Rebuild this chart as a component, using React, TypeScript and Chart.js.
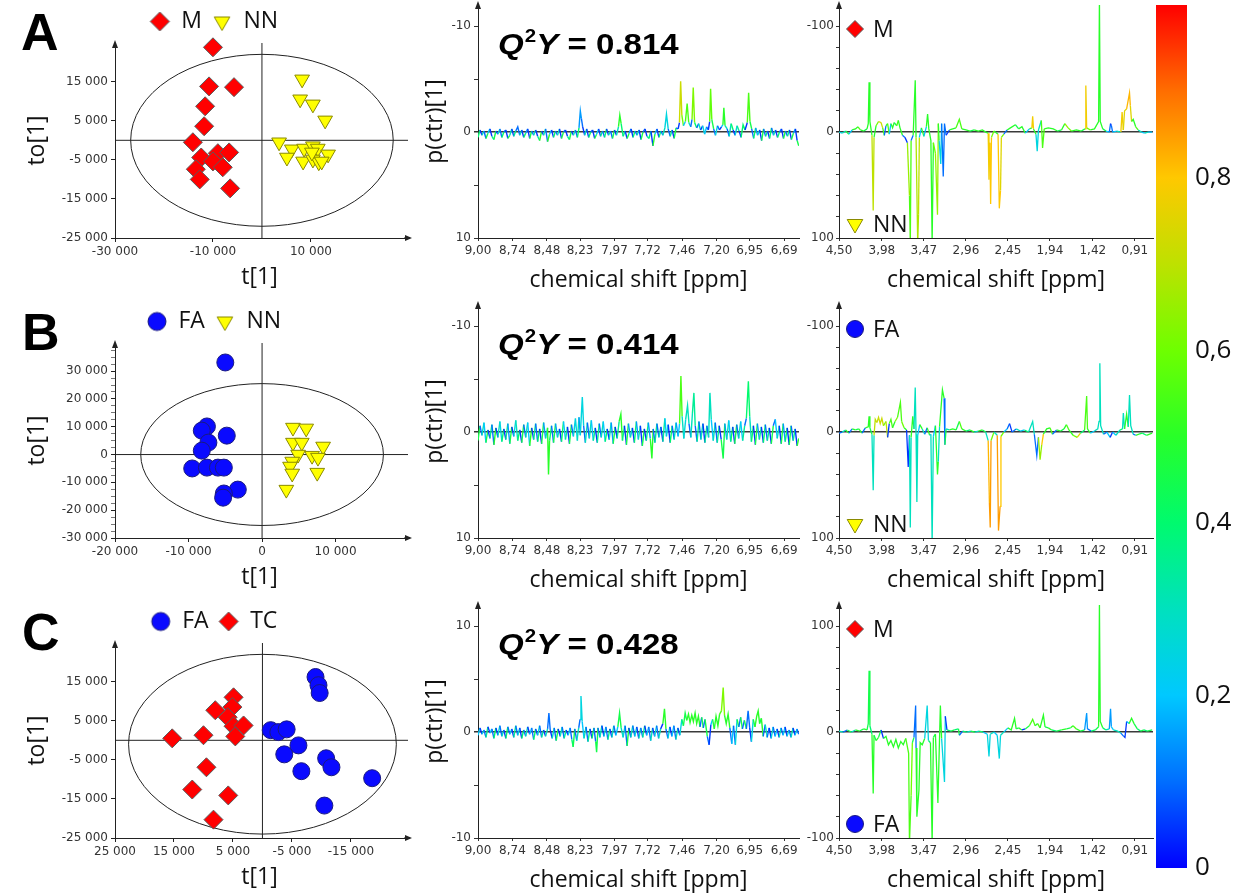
import React, { useEffect, useRef } from 'react';
import { Chart, registerables } from 'chart.js';

Chart.register(...registerables);

// ---------------- DATA ----------------
// Row A scores (M vs NN)
const A_M_T = [-10000, -10800, -5700, -11600, -11800, -14100, -12400, -9000, -6700, -10000, -8000, -13500, -12700, -6500];
const A_M_TO = [23800, 13800, 13600, 8700, 3600, -500, -4400, -3300, -3100, -5400, -6900, -7400, -10000, -12300];
const A_NN_T = [8200, 7800, 10400, 12900, 3500, 6100, 5100, 8600, 10400, 11400, 8400, 10400, 13500, 11600, 12200, 10200];
const A_NN_TO = [15600, 10500, 9200, 5100, -500, -2300, -4400, -2100, -1500, -2100, -5400, -4900, -3600, -5600, -5400, -3100];
// Row B scores (FA vs NN)
const B_FA_T = [-5000, -7500, -8200, -4800, -7300, -8200, -9500, -7500, -6000, -5200, -3300, -5200, -5300];
const B_FA_TO = [33100, 10100, 8600, 6800, 4300, 1400, -5000, -4700, -4700, -4700, -12600, -14000, -15500];
const B_NN_T = [4200, 6000, 4200, 5400, 8300, 4900, 6800, 7600, 4100, 3800, 4100, 7500, 3300];
const B_NN_TO = [9700, 9400, 4300, 4300, 2900, 0, -400, -1100, -2500, -4300, -6800, -6500, -12600];
// Row C scores (FA vs TC)
const C_FA_T = [-9000, -9500, -9700, -1400, -2700, -4100, -6100, -3700, -10800, -11700, -6600, -18600, -10500];
const C_FA_TO = [16200, 14100, 12100, 2600, 2100, 2800, -1300, -3600, -4600, -6900, -7900, -9700, -16700];
const C_TC_T = [4900, 5100, 8000, 5900, 4900, 3200, 4600, 15300, 10000, 9500, 11900, 5800, 8300];
const C_TC_TO = [11000, 8500, 7700, 5900, 3600, 3800, 1000, 500, 1300, -6900, -12600, -14100, -20300];

// Hotelling ellipses [a (t), b (to), centre t, centre to]
const ELL_A = [26800, 22000, 0, 0];
const ELL_B = [16500, 25500, 0, 0];
const ELL_C = [22700, 23000, 0, -1000];

// Score axis ticks
const A_X_TICKS = [-30000, -10000, 10000];
const A_Y_TICKS = [-25000, -15000, -5000, 5000, 15000];
const B_X_TICKS = [-20000, -10000, 0, 10000];
const B_Y_TICKS = [-30000, -20000, -10000, 0, 10000, 20000, 30000];
const B_Y_MINOR = [-27500, -25000, -22500, -17500, -15000, -12500, -7500, -5000, -2500, 2500, 5000, 7500, 12500, 15000, 17500, 22500, 25000, 27500, 32500, 35000, 37500];
const C_X_TICKS = [25000, 15000, 5000, -5000, -15000];
const C_Y_TICKS = [-25000, -15000, -5000, 5000, 15000];

// Spectral axis ticks (ppm)
const MID_X_TICKS = [9.0, 8.74, 8.48, 8.23, 7.97, 7.72, 7.46, 7.2, 6.95, 6.69];
const RIGHT_X_TICKS = [4.5, 3.98, 3.47, 2.96, 2.45, 1.94, 1.42, 0.91];
const MID_Y_TICKS = [-10, -5, 0, 5, 10];
const MID_Y_LABELS = [-10, 0, 10];
const RIGHT_Y_TICKS = [-100, -80, -60, -40, -20, 0, 20, 40, 60, 80, 100];
const RIGHT_Y_LABELS = [-100, 0, 100];

const Q2Y = ['0.814', '0.414', '0.428'];

// Spectra: [ppm, p(ctr)[1], |r|]
const MID_A: number[][] = [
  [9.0, 0.5, 0.4], [8.985, -0.2, 0.05], [8.97, 0.3, 0.3], [8.955, -0.1, 0.1], [8.94, 0.6, 0.45],
  [8.925, 0.1, 0.2], [8.91, -0.3, 0.05], [8.895, 0.4, 0.35], [8.88, 0.7, 0.45], [8.865, -0.1, 0.05],
  [8.85, 0.2, 0.25], [8.835, -0.3, 0.1], [8.82, 0.5, 0.4], [8.805, 0.0, 0.1], [8.79, -0.2, 0.05],
  [8.775, 0.6, 0.45], [8.76, 0.3, 0.3], [8.745, -0.3, 0.05], [8.73, 0.4, 0.35], [8.715, -0.1, 0.1],
  [8.7, -0.5, 0.1], [8.685, 0.3, 0.3], [8.67, -0.2, 0.05], [8.655, 0.5, 0.4], [8.64, 0.1, 0.15],
  [8.625, -0.3, 0.05], [8.61, 0.6, 0.45], [8.595, -0.1, 0.1], [8.58, 0.3, 0.3], [8.565, -0.2, 0.05],
  [8.55, 0.4, 0.35], [8.535, 0.8, 0.5], [8.52, -0.1, 0.05], [8.505, 0.3, 0.3], [8.49, -0.3, 0.1],
  [8.475, 0.9, 0.5], [8.46, 0.2, 0.2], [8.445, -0.2, 0.05], [8.43, 0.5, 0.4], [8.415, -0.1, 0.1],
  [8.4, 0.3, 0.3], [8.385, -0.3, 0.05], [8.37, 0.6, 0.45], [8.355, 0.0, 0.1], [8.34, -0.2, 0.05],
  [8.325, 0.4, 0.35], [8.31, 0.7, 0.45], [8.295, -0.1, 0.05], [8.28, 0.3, 0.3], [8.265, -0.2, 0.1],
  [8.25, 0.5, 0.4], [8.238, -0.4, 0.1], [8.228, -2.0, 0.15], [8.22, -1.3, 0.1], [8.21, -0.5, 0.05],
  [8.195, 0.3, 0.3], [8.18, -0.3, 0.05], [8.165, 0.5, 0.4], [8.15, 0.0, 0.1], [8.135, -0.2, 0.05],
  [8.12, 0.6, 0.45], [8.105, 0.2, 0.2], [8.09, -0.3, 0.05], [8.075, 0.4, 0.35], [8.06, -0.1, 0.1],
  [8.045, 0.5, 0.4], [8.03, -0.3, 0.05], [8.015, 0.3, 0.3], [8.0, -0.1, 0.1], [7.985, 0.6, 0.45],
  [7.97, -0.2, 0.05], [7.955, 0.3, 0.3], [7.94, -0.5, 0.3], [7.93, -1.6, 0.5], [7.92, -0.8, 0.4],
  [7.905, 0.4, 0.35], [7.89, -0.1, 0.05], [7.875, 0.6, 0.45], [7.86, 0.1, 0.15], [7.845, -0.3, 0.05],
  [7.83, 0.5, 0.4], [7.815, -0.1, 0.1], [7.8, 0.3, 0.3], [7.785, -0.2, 0.05], [7.77, 0.7, 0.45],
  [7.755, 0.0, 0.1], [7.74, -0.3, 0.05], [7.725, 0.4, 0.35], [7.71, 0.6, 0.4], [7.695, -0.1, 0.05],
  [7.68, 1.3, 0.5], [7.665, 0.2, 0.2], [7.65, -0.3, 0.05], [7.635, 0.5, 0.4], [7.62, -0.1, 0.1],
  [7.605, 0.3, 0.3], [7.59, -0.4, 0.1], [7.578, -1.7, 0.25], [7.565, -0.3, 0.1], [7.55, 0.4, 0.35],
  [7.535, -0.2, 0.05], [7.52, 0.6, 0.45], [7.505, -0.4, 0.1], [7.49, -0.3, 0.05], [7.48, -0.9, 0.5],
  [7.471, -4.8, 0.72], [7.462, -1.6, 0.6], [7.45, -0.6, 0.2], [7.435, -1.0, 0.3], [7.422, -2.7, 0.55],
  [7.41, -0.9, 0.3], [7.395, -0.5, 0.1], [7.385, -1.2, 0.5], [7.376, -4.2, 0.62], [7.366, -0.9, 0.4],
  [7.35, -0.4, 0.1], [7.335, -0.8, 0.3], [7.32, -0.2, 0.05], [7.305, -0.6, 0.25], [7.29, 0.2, 0.2],
  [7.275, -0.5, 0.1], [7.262, -0.2, 0.05], [7.252, -1.0, 0.5], [7.245, -4.1, 0.58], [7.236, -1.2, 0.45],
  [7.222, -0.3, 0.1], [7.208, 0.3, 0.25], [7.193, -0.6, 0.1], [7.178, -0.2, 0.05], [7.163, -0.5, 0.2],
  [7.152, -0.7, 0.4], [7.145, -2.3, 0.5], [7.136, -0.6, 0.3], [7.12, -0.3, 0.1], [7.105, 0.4, 0.3],
  [7.09, -0.8, 0.4], [7.075, -0.2, 0.05], [7.06, 0.3, 0.25], [7.045, -0.6, 0.35], [7.03, -0.1, 0.05],
  [7.015, 0.5, 0.4], [7.0, -0.7, 0.4], [6.985, -0.2, 0.05], [6.968, -0.9, 0.45], [6.958, -3.7, 0.55],
  [6.948, -1.0, 0.45], [6.935, -0.3, 0.1], [6.92, 0.6, 0.4], [6.905, -0.4, 0.15], [6.89, 0.3, 0.25],
  [6.875, -0.2, 0.05], [6.86, 0.8, 0.45], [6.845, -0.3, 0.1], [6.83, 0.4, 0.35], [6.815, -0.1, 0.05],
  [6.8, 0.6, 0.4], [6.785, -0.4, 0.1], [6.77, 0.3, 0.3], [6.755, -0.2, 0.05], [6.74, 0.5, 0.4],
  [6.725, 0.0, 0.1], [6.71, -0.3, 0.05], [6.695, 0.6, 0.45], [6.68, -0.1, 0.1], [6.665, 0.4, 0.35],
  [6.65, -0.2, 0.05], [6.635, 0.7, 0.45], [6.62, 0.1, 0.15], [6.605, -0.3, 0.05], [6.592, 0.8, 0.45],
  [6.58, 1.3, 0.5],
];

const MID_B: number[][] = [
  [9.0, 0.8, 0.45], [8.985, -0.6, 0.1], [8.97, 0.3, 0.3], [8.955, -0.9, 0.2], [8.94, 1.0, 0.45],
  [8.925, -0.2, 0.05], [8.91, 0.6, 0.35], [8.895, -0.7, 0.1], [8.88, 1.2, 0.5], [8.865, -0.4, 0.05],
  [8.85, 0.5, 0.3], [8.835, -1.0, 0.25], [8.82, 0.9, 0.4], [8.805, -0.3, 0.05], [8.79, 0.7, 0.35],
  [8.775, -0.8, 0.15], [8.76, 1.1, 0.45], [8.745, -0.5, 0.05], [8.73, 0.4, 0.25], [8.715, -1.1, 0.3],
  [8.7, 0.8, 0.4], [8.685, -0.2, 0.05], [8.67, 1.0, 0.45], [8.655, -0.7, 0.1], [8.64, 0.5, 0.3],
  [8.625, -0.9, 0.2], [8.61, 1.3, 0.5], [8.595, -0.4, 0.05], [8.58, 0.7, 0.35], [8.565, -0.8, 0.1],
  [8.55, 0.9, 0.4], [8.535, -0.3, 0.05], [8.52, 1.1, 0.45], [8.505, -0.9, 0.15], [8.49, 0.6, 0.3],
  [8.475, -0.4, 0.05], [8.468, 4.0, 0.5], [8.46, 0.8, 0.4], [8.445, -0.6, 0.1], [8.43, 1.0, 0.45],
  [8.415, -0.8, 0.15], [8.4, 0.5, 0.3], [8.385, -0.3, 0.05], [8.37, 0.9, 0.4], [8.355, -1.0, 0.2],
  [8.34, 0.7, 0.35], [8.325, -0.5, 0.05], [8.31, 1.1, 0.45], [8.295, -0.7, 0.1], [8.28, 0.4, 0.25],
  [8.265, -1.3, 0.25], [8.25, 0.8, 0.3], [8.238, -1.4, 0.15], [8.228, 0.3, 0.2], [8.213, -3.3, 0.25],
  [8.203, -0.6, 0.1], [8.19, 1.0, 0.3], [8.175, -0.9, 0.1], [8.16, 0.6, 0.3], [8.145, -1.1, 0.2],
  [8.13, 0.8, 0.35], [8.115, -0.4, 0.05], [8.1, 1.0, 0.35], [8.085, -0.8, 0.1], [8.07, 0.5, 0.3],
  [8.055, -1.0, 0.2], [8.04, 0.9, 0.4], [8.025, -0.3, 0.05], [8.01, 0.7, 0.3], [7.995, -0.9, 0.15],
  [7.98, 1.1, 0.45], [7.965, -0.5, 0.05], [7.95, 0.6, 0.35], [7.935, -1.0, 0.2], [7.922, -1.7, 0.5],
  [7.91, 0.8, 0.35], [7.895, -0.6, 0.05], [7.88, 1.2, 0.45], [7.865, -0.8, 0.15], [7.85, 0.5, 0.3],
  [7.835, -0.4, 0.05], [7.82, 1.0, 0.4], [7.805, -1.0, 0.15], [7.79, 0.7, 0.3], [7.775, -0.6, 0.05],
  [7.76, 1.3, 0.45], [7.745, -0.3, 0.05], [7.73, 0.8, 0.35], [7.715, -0.9, 0.15], [7.7, 0.6, 0.3],
  [7.688, 2.5, 0.5], [7.678, -0.3, 0.1], [7.665, 1.0, 0.35], [7.65, -0.8, 0.1], [7.635, 0.5, 0.3],
  [7.62, -0.5, 0.05], [7.605, 0.9, 0.35], [7.59, -1.3, 0.2], [7.578, 0.4, 0.25], [7.565, -0.7, 0.05],
  [7.55, 1.0, 0.4], [7.535, -0.6, 0.1], [7.52, 0.7, 0.3], [7.505, -0.9, 0.15], [7.49, 0.4, 0.2],
  [7.479, -0.8, 0.3], [7.469, -5.3, 0.55], [7.46, -1.5, 0.3], [7.447, 0.6, 0.25], [7.433, -1.2, 0.1],
  [7.419, -2.5, 0.3], [7.408, -0.8, 0.1], [7.394, 0.5, 0.25], [7.382, -1.8, 0.3], [7.371, -3.7, 0.35],
  [7.361, -0.6, 0.1], [7.347, 0.9, 0.35], [7.333, -1.0, 0.1], [7.318, 0.7, 0.3], [7.303, -0.8, 0.05],
  [7.288, 1.0, 0.35], [7.273, -0.6, 0.1], [7.26, 0.5, 0.25], [7.25, -3.7, 0.3], [7.24, -1.2, 0.2],
  [7.225, 0.8, 0.3], [7.21, -0.9, 0.1], [7.195, 1.0, 0.35], [7.18, -0.6, 0.05], [7.165, 0.7, 0.3],
  [7.15, 2.5, 0.45], [7.138, -0.8, 0.15], [7.123, 0.7, 0.3], [7.108, -1.1, 0.2], [7.093, 0.9, 0.4],
  [7.078, -0.5, 0.05], [7.063, 1.1, 0.45], [7.048, -0.7, 0.1], [7.033, 0.6, 0.3], [7.018, -1.0, 0.2],
  [7.003, 0.8, 0.35], [6.988, -0.6, 0.1], [6.975, -1.3, 0.3], [6.96, -4.8, 0.4], [6.95, -1.5, 0.3],
  [6.937, 0.9, 0.4], [6.922, -0.6, 0.05], [6.907, 1.2, 0.45], [6.892, -0.8, 0.15], [6.877, 0.7, 0.35],
  [6.862, -0.5, 0.05], [6.847, 1.0, 0.4], [6.832, -0.7, 0.1], [6.817, 0.8, 0.35], [6.802, -0.4, 0.05],
  [6.787, 1.1, 0.45], [6.772, -0.6, 0.1], [6.757, -1.2, 0.2], [6.742, 0.6, 0.3], [6.727, -0.6, 0.05],
  [6.712, 1.1, 0.45], [6.697, -0.8, 0.15], [6.682, 0.9, 0.4], [6.667, -0.4, 0.05], [6.652, 1.2, 0.45],
  [6.637, -0.6, 0.1], [6.622, 0.8, 0.35], [6.607, -0.3, 0.05], [6.592, 1.3, 0.5], [6.58, 0.6, 0.4],
];

const MID_C: number[][] = [
  [9.0, -0.3, 0.2], [8.985, 0.4, 0.05], [8.97, -0.2, 0.25], [8.955, 0.2, 0.1], [8.94, -0.5, 0.35],
  [8.925, 0.5, 0.05], [8.91, -0.1, 0.2], [8.895, 0.3, 0.1], [8.88, -0.6, 0.4], [8.865, 0.4, 0.05],
  [8.85, -0.3, 0.25], [8.835, 0.6, 0.1], [8.82, -0.4, 0.3], [8.805, 0.2, 0.05], [8.79, -0.6, 0.4],
  [8.775, 0.5, 0.1], [8.76, -0.2, 0.2], [8.745, 0.3, 0.05], [8.73, -0.5, 0.35], [8.715, 0.6, 0.1],
  [8.7, -0.3, 0.25], [8.685, 0.4, 0.05], [8.67, -0.6, 0.4], [8.655, 0.2, 0.1], [8.64, -0.4, 0.3],
  [8.625, 0.5, 0.05], [8.61, -0.2, 0.2], [8.595, 0.4, 0.1], [8.58, -0.7, 0.4], [8.565, 0.3, 0.05],
  [8.55, -0.3, 0.25], [8.535, 0.6, 0.1], [8.52, -0.5, 0.35], [8.505, 0.2, 0.05], [8.49, -0.4, 0.3],
  [8.475, 0.3, 0.1], [8.465, 1.8, 0.1], [8.455, 0.2, 0.05], [8.44, -0.6, 0.3], [8.425, 0.4, 0.1],
  [8.41, -0.8, 0.45], [8.395, 0.3, 0.05], [8.38, -0.4, 0.3], [8.365, 0.5, 0.1], [8.35, -0.6, 0.35],
  [8.335, 0.2, 0.05], [8.32, -0.3, 0.2], [8.305, 0.4, 0.1], [8.292, -0.7, 0.4], [8.282, -1.4, 0.45],
  [8.27, 0.3, 0.1], [8.255, -0.8, 0.3], [8.24, 0.4, 0.1], [8.23, 1.2, 0.2], [8.223, 3.4, 0.25],
  [8.214, 1.0, 0.2], [8.2, -0.6, 0.3], [8.185, 0.5, 0.1], [8.17, -0.9, 0.35], [8.155, 0.3, 0.05],
  [8.14, -0.6, 0.4], [8.125, 0.4, 0.1], [8.112, -0.9, 0.4], [8.105, -1.9, 0.45], [8.095, 0.4, 0.1],
  [8.08, -0.5, 0.3], [8.065, 0.6, 0.05], [8.05, -0.4, 0.25], [8.035, 0.5, 0.1], [8.02, -0.7, 0.35],
  [8.005, 0.3, 0.05], [7.99, -0.5, 0.3], [7.975, 0.6, 0.1], [7.96, -0.3, 0.2], [7.945, 0.5, 0.3],
  [7.932, 1.8, 0.45], [7.92, 0.4, 0.3], [7.905, -0.5, 0.25], [7.89, 0.6, 0.1], [7.875, -1.3, 0.45],
  [7.862, 0.4, 0.05], [7.847, -0.5, 0.3], [7.832, 0.6, 0.1], [7.817, -0.4, 0.25], [7.802, 0.5, 0.05],
  [7.787, -0.6, 0.3], [7.772, 0.4, 0.1], [7.757, -0.5, 0.35], [7.742, 0.6, 0.05], [7.727, -0.3, 0.2],
  [7.712, 0.5, 0.1], [7.697, -0.8, 0.3], [7.682, 0.4, 0.05], [7.667, -0.4, 0.25], [7.652, 0.6, 0.1],
  [7.637, -0.6, 0.3], [7.622, 0.3, 0.05], [7.605, 0.8, 0.4], [7.593, 2.2, 0.5], [7.582, 0.3, 0.1],
  [7.567, -0.6, 0.25], [7.552, 0.5, 0.05], [7.537, -0.4, 0.2], [7.522, 0.6, 0.1], [7.507, -0.7, 0.3],
  [7.492, 0.4, 0.05], [7.477, -0.3, 0.25], [7.462, 1.2, 0.4], [7.45, 0.6, 0.3], [7.437, 1.8, 0.45],
  [7.425, 1.1, 0.5], [7.412, 1.7, 0.5], [7.4, 0.9, 0.45], [7.387, 1.6, 0.5], [7.375, 1.0, 0.45],
  [7.362, 1.8, 0.5], [7.35, 0.8, 0.4], [7.337, 1.5, 0.5], [7.325, 0.5, 0.1], [7.312, 1.4, 0.45],
  [7.3, 0.4, 0.1], [7.287, 1.2, 0.45], [7.27, -0.4, 0.1], [7.256, -1.2, 0.05], [7.243, 0.7, 0.2],
  [7.23, 1.2, 0.45], [7.217, 0.3, 0.1], [7.204, 1.5, 0.5], [7.19, 0.6, 0.3], [7.177, 1.7, 0.5],
  [7.163, 2.0, 0.55], [7.15, 4.2, 0.62], [7.14, 1.6, 0.5], [7.127, 0.8, 0.45], [7.113, 1.7, 0.5],
  [7.1, 0.4, 0.1], [7.085, -1.1, 0.2], [7.072, 0.6, 0.1], [7.058, -1.2, 0.25], [7.045, 1.2, 0.45],
  [7.032, 0.5, 0.1], [7.018, 1.4, 0.45], [7.005, 0.3, 0.1], [6.99, 1.1, 0.45], [6.975, 0.3, 0.1],
  [6.962, 2.0, 0.1], [6.95, 0.4, 0.05], [6.937, -0.9, 0.25], [6.923, 1.2, 0.45], [6.91, 0.5, 0.3],
  [6.897, 1.5, 0.5], [6.886, 2.0, 0.5], [6.875, 0.8, 0.45], [6.862, 1.3, 0.5], [6.848, -0.4, 0.1],
  [6.833, 0.7, 0.3], [6.818, -0.5, 0.1], [6.803, 0.4, 0.05], [6.788, -0.6, 0.25], [6.773, 0.5, 0.1],
  [6.758, -0.4, 0.2], [6.743, 0.3, 0.05], [6.728, -0.5, 0.3], [6.713, 0.4, 0.1], [6.698, -0.3, 0.2],
  [6.683, 0.5, 0.05], [6.668, -0.4, 0.25], [6.653, 0.2, 0.1], [6.638, -0.5, 0.3], [6.623, 0.4, 0.05],
  [6.608, -0.3, 0.2], [6.593, 0.3, 0.1], [6.58, -0.2, 0.15],
];

const RIGHT_A: number[][] = [
  [4.5, 0, 0.25], [4.46, 1, 0.3], [4.42, -1, 0.45], [4.38, 2, 0.2], [4.34, -2, 0.5],
  [4.3, -3, 0.5], [4.27, -5, 0.55], [4.24, -2, 0.5], [4.2, -1, 0.45], [4.16, -3, 0.5],
  [4.145, -8, 0.55], [4.135, -47, 0.5], [4.125, -10, 0.5], [4.1, 3, 0.3], [4.085, 74, 0.7],
  [4.075, 5, 0.5], [4.05, -6, 0.6], [4.02, -10, 0.75], [3.99, -9, 0.72], [3.97, -4, 0.55],
  [3.95, 3, 0.1], [3.93, -6, 0.5], [3.91, -8, 0.55], [3.89, 2, 0.2], [3.87, -8, 0.5],
  [3.85, -4, 0.5], [3.83, -9, 0.45], [3.8, -6, 0.55], [3.78, -11, 0.5], [3.76, -4, 0.5],
  [3.73, 3, 0.1], [3.7, 5, 0.05], [3.67, 10, 0.05], [3.645, 60, 0.65], [3.635, 105, 0.55],
  [3.625, 8, 0.1], [3.6, 3, 0.05], [3.575, -49, 0.5], [3.565, 5, 0.1], [3.545, 105, 0.68],
  [3.535, 78, 0.7], [3.525, 5, 0.2], [3.5, -4, 0.5], [3.47, 4, 0.2], [3.44, -5, 0.5],
  [3.425, -17, 0.5], [3.41, -3, 0.5], [3.385, 8, 0.3], [3.37, 105, 0.5], [3.355, 10, 0.4],
  [3.33, 20, 0.6], [3.305, 78, 0.65], [3.295, -8, 0.5], [3.285, 8, 0.3], [3.265, 30, 0.25],
  [3.255, -8, 0.1], [3.235, 42, 0.1], [3.22, -8, 0.1], [3.2, 3, 0.05], [3.16, -2, 0.5],
  [3.12, -3, 0.5], [3.08, -4, 0.5], [3.04, -12, 0.55], [3.01, -3, 0.5], [2.96, -2, 0.5],
  [2.91, -1, 0.45], [2.86, -2, 0.5], [2.81, -1, 0.5], [2.76, -2, 0.5], [2.72, 0, 0.5],
  [2.69, 1, 0.6], [2.68, 45, 0.78], [2.67, 10, 0.75], [2.66, 68, 0.8], [2.65, 5, 0.6],
  [2.62, -1, 0.5], [2.57, 2, 0.6], [2.555, 72, 0.8], [2.54, 55, 0.75], [2.53, 5, 0.6],
  [2.5, 2, 0.1], [2.46, -2, 0.5], [2.42, -4, 0.5], [2.36, -7, 0.45], [2.32, -3, 0.5],
  [2.28, -5, 0.5], [2.24, 1, 0.2], [2.19, -3, 0.5], [2.16, -4, 0.55], [2.15, -15, 0.78],
  [2.14, -3, 0.5], [2.11, 2, 0.2], [2.095, 18, 0.25], [2.08, -2, 0.3], [2.045, -11, 0.25],
  [2.03, 15, 0.55], [2.01, -3, 0.5], [1.96, -4, 0.5], [1.9, -3, 0.5], [1.85, -1, 0.45],
  [1.8, -2, 0.5], [1.76, -8, 0.65], [1.72, -4, 0.6], [1.68, -1, 0.5], [1.62, -2, 0.5],
  [1.56, -1, 0.45], [1.515, -3, 0.55], [1.505, -44, 0.78], [1.495, -4, 0.6], [1.45, -2, 0.5],
  [1.4, -3, 0.5], [1.35, -10, 0.5], [1.34, -125, 0.5], [1.33, -10, 0.5], [1.3, -3, 0.45],
  [1.26, -1, 0.2], [1.22, 0, 0.1], [1.205, -8, 0.05], [1.195, -6, 0.1], [1.18, 0, 0.2],
  [1.13, -1, 0.3], [1.08, 0, 0.5], [1.065, -19, 0.78], [1.05, -2, 0.6], [1.035, -20, 0.75],
  [1.01, -22, 0.75], [0.975, -37, 0.82], [0.965, -25, 0.75], [0.95, -10, 0.55], [0.93, -12, 0.5],
  [0.9, -5, 0.55], [0.87, -2, 0.3], [0.83, 0, 0.2], [0.79, 1, 0.3], [0.75, 0, 0.2],
  [0.7, 0, 0.2],
];

const RIGHT_B: number[][] = [
  [4.5, 1, 0.1], [4.46, 0, 0.3], [4.42, -2, 0.5], [4.38, 1, 0.1], [4.34, -3, 0.5],
  [4.3, -2, 0.45], [4.26, -3, 0.5], [4.22, 1, 0.1], [4.18, -4, 0.5], [4.145, -5, 0.5],
  [4.135, -15, 0.5], [4.125, -4, 0.45], [4.1, 2, 0.2], [4.085, 55, 0.3], [4.075, 3, 0.2],
  [4.06, -12, 0.7], [4.04, -9, 0.75], [4.02, -14, 0.72], [4.0, -8, 0.65], [3.98, -13, 0.72],
  [3.96, -6, 0.6], [3.93, -10, 0.7], [3.91, 5, 0.05], [3.89, -8, 0.6], [3.87, -12, 0.55],
  [3.85, -4, 0.5], [3.82, -10, 0.6], [3.79, -14, 0.62], [3.755, -28, 0.55], [3.74, -10, 0.6],
  [3.71, -4, 0.5], [3.68, -2, 0.3], [3.66, 33, 0.05], [3.645, 3, 0.2], [3.635, 90, 0.3],
  [3.625, 5, 0.2], [3.605, -15, 0.5], [3.59, -3, 0.2], [3.575, -42, 0.3], [3.565, 2, 0.2],
  [3.555, 66, 0.3], [3.545, 3, 0.2], [3.52, -7, 0.5], [3.49, -3, 0.3], [3.46, 2, 0.1],
  [3.43, -4, 0.5], [3.4, 3, 0.2], [3.385, 2, 0.1], [3.37, 105, 0.3], [3.355, 4, 0.2],
  [3.33, -6, 0.5], [3.305, 40, 0.5], [3.295, 28, 0.3], [3.28, -5, 0.2], [3.245, -40, 0.5],
  [3.225, -32, 0.1], [3.215, 12, 0.45], [3.2, -3, 0.3], [3.16, -2, 0.5], [3.12, -3, 0.5],
  [3.08, -2, 0.45], [3.04, -10, 0.55], [3.01, -3, 0.5], [2.96, -1, 0.4], [2.91, -2, 0.5],
  [2.86, 0, 0.3], [2.81, -1, 0.5], [2.76, -2, 0.45], [2.72, 0, 0.3], [2.69, 8, 0.55],
  [2.675, 67, 0.82], [2.665, 90, 0.85], [2.655, 8, 0.6], [2.62, 0, 0.3], [2.58, 3, 0.6],
  [2.565, 93, 0.85], [2.545, 70, 0.8], [2.535, 4, 0.6], [2.5, 0, 0.2], [2.46, -3, 0.1],
  [2.43, -8, 0.05], [2.4, 0, 0.1], [2.35, -3, 0.3], [2.3, -1, 0.2], [2.25, -2, 0.4],
  [2.2, 0, 0.3], [2.15, -10, 0.3], [2.13, 2, 0.5], [2.1, 22, 0.1], [2.08, 5, 0.5],
  [2.06, 26, 0.65], [2.04, 12, 0.8], [2.02, 2, 0.5], [1.98, -3, 0.5], [1.94, -4, 0.55],
  [1.91, 2, 0.1], [1.86, -2, 0.5], [1.81, -1, 0.45], [1.77, -3, 0.5], [1.74, -7, 0.55],
  [1.71, -2, 0.5], [1.66, 3, 0.6], [1.61, 5, 0.75], [1.57, 1, 0.4], [1.52, -2, 0.5],
  [1.495, -34, 0.55], [1.485, -3, 0.5], [1.45, 1, 0.2], [1.4, -1, 0.3], [1.36, -3, 0.3],
  [1.345, -10, 0.3], [1.335, -65, 0.3], [1.325, -6, 0.3], [1.29, 2, 0.1], [1.25, 0, 0.2],
  [1.21, 5, 0.05], [1.18, 0, 0.2], [1.14, 3, 0.3], [1.09, -2, 0.4], [1.06, -3, 0.3],
  [1.05, -18, 0.3], [1.035, -3, 0.4], [1.01, -17, 0.5], [0.99, -5, 0.4], [0.975, -35, 0.3],
  [0.96, -6, 0.3], [0.93, 2, 0.1], [0.9, 3, 0.5], [0.86, 2, 0.45], [0.82, 1, 0.4],
  [0.77, 3, 0.5], [0.7, 1, 0.4],
];

const RIGHT_C: number[][] = [
  [4.5, 1, 0.3], [4.45, 0, 0.1], [4.4, 2, 0.45], [4.35, 0, 0.3], [4.3, 2, 0.5],
  [4.25, 1, 0.45], [4.2, 3, 0.5], [4.16, 2, 0.45], [4.145, 8, 0.5], [4.135, 58, 0.45],
  [4.125, 6, 0.4], [4.1, -2, 0.4], [4.085, -58, 0.5], [4.075, -3, 0.45], [4.05, -8, 0.5],
  [4.02, -5, 0.45], [3.99, 2, 0.05], [3.96, -6, 0.5], [3.93, -4, 0.5], [3.9, -12, 0.5],
  [3.87, -8, 0.45], [3.84, -14, 0.5], [3.81, -7, 0.4], [3.78, -15, 0.5], [3.75, -9, 0.45],
  [3.72, -12, 0.5], [3.69, -6, 0.45], [3.655, -20, 0.55], [3.645, -105, 0.55], [3.625, -60, 0.6],
  [3.61, -10, 0.45], [3.59, -5, 0.45], [3.57, 25, 0.1], [3.565, -15, 0.45], [3.555, -80, 0.5],
  [3.53, -55, 0.5], [3.515, -10, 0.45], [3.49, -12, 0.5], [3.46, -6, 0.45], [3.43, 25, 0.25],
  [3.415, -8, 0.4], [3.39, -10, 0.45], [3.37, -105, 0.5], [3.355, -5, 0.45], [3.33, -2, 0.4],
  [3.3, -67, 0.5], [3.27, 25, 0.5], [3.255, -6, 0.2], [3.22, -47, 0.25], [3.21, 15, 0.05],
  [3.19, 2, 0.4], [3.14, 1, 0.45], [3.1, 2, 0.4], [3.05, 3, 0.45], [3.04, -3, 0.1],
  [3.0, 1, 0.4], [2.95, 0, 0.3], [2.9, 1, 0.45], [2.85, 0, 0.3], [2.8, 1, 0.4],
  [2.75, 0, 0.2], [2.7, -2, 0.3], [2.68, -23, 0.25], [2.665, -2, 0.3], [2.62, 0, 0.2],
  [2.58, -3, 0.3], [2.555, -25, 0.25], [2.54, -3, 0.3], [2.5, 0, 0.2], [2.45, 4, 0.5],
  [2.41, 2, 0.45], [2.37, 13, 0.5], [2.35, 3, 0.45], [2.32, 4, 0.5], [2.28, 2, 0.05],
  [2.24, 3, 0.45], [2.19, 6, 0.5], [2.15, 12, 0.55], [2.12, 6, 0.5], [2.09, 8, 0.55],
  [2.06, 4, 0.5], [2.02, 16, 0.5], [2.0, 5, 0.45], [1.96, 4, 0.5], [1.92, 2, 0.4],
  [1.86, 1, 0.45], [1.8, 2, 0.5], [1.74, 3, 0.45], [1.69, 4, 0.5], [1.66, 6, 0.55],
  [1.62, 3, 0.5], [1.57, 1, 0.45], [1.52, 2, 0.4], [1.495, 18, 0.15], [1.485, 3, 0.1],
  [1.44, 1, 0.4], [1.39, 2, 0.45], [1.35, 5, 0.5], [1.34, 122, 0.5], [1.33, 10, 0.5],
  [1.3, 4, 0.4], [1.26, 2, 0.3], [1.22, 3, 0.2], [1.205, 22, 0.15], [1.195, 5, 0.2],
  [1.17, 2, 0.3], [1.12, 1, 0.3], [1.08, -1, 0.1], [1.045, -4, 0.05], [1.03, -5, 0.05],
  [1.01, 10, 0.2], [0.98, 8, 0.45], [0.95, 13, 0.5], [0.92, 8, 0.45], [0.88, 3, 0.4],
  [0.84, 1, 0.45], [0.8, 2, 0.4], [0.76, 1, 0.45], [0.7, 2, 0.4],
];

// Colour scale (|r|) stops
const CMAP_POS = [0, 0.1, 0.2, 0.3, 0.4, 0.5, 0.6, 0.7, 0.8, 0.9, 1];
const CMAP_RGB = [
  [0, 0, 255], [0, 110, 255], [0, 200, 255], [0, 225, 190], [0, 250, 110], [40, 255, 40],
  [110, 255, 0], [190, 225, 0], [255, 200, 0], [255, 110, 0], [255, 0, 0],
];
const COLORBAR_RANGE = [0, 1];
const COLORBAR_TICKS = [0, 0.2, 0.4, 0.6, 0.8];

// ---------------- HELPERS ----------------
const TICK_FONT = { family: 'DejaVu Sans', size: 12 };
const TITLE_FONT = { family: 'Open Sans', size: 23 };
const LEGEND_FONT = { family: 'Open Sans', size: 23 };

function cmap(v: number): string {
  const t = Math.max(0, Math.min(1, v));
  let i = 0;
  while (i < CMAP_POS.length - 2 && t > CMAP_POS[i + 1]) i++;
  const f = (t - CMAP_POS[i]) / (CMAP_POS[i + 1] - CMAP_POS[i]);
  const a = CMAP_RGB[i], b = CMAP_RGB[i + 1];
  const c = a.map((x, k) => Math.round(x + (b[k] - x) * f));
  return `rgb(${c[0]},${c[1]},${c[2]})`;
}

function fmtK(v: number): string {
  const s = Math.abs(Math.round(v)).toString().replace(/\B(?=(\d{3})+(?!\d))/g, ' ');
  return (v < 0 ? '-' : '') + s;
}

function drawMarker(ctx: CanvasRenderingContext2D, kind: string, x: number, y: number, r: number, fill: string, stroke: string) {
  ctx.beginPath();
  if (kind === 'diamond') {
    ctx.moveTo(x, y - r); ctx.lineTo(x + r, y); ctx.lineTo(x, y + r); ctx.lineTo(x - r, y); ctx.closePath();
  } else if (kind === 'tri') {
    ctx.moveTo(x - r * 0.866, y - r * 0.5); ctx.lineTo(x + r * 0.866, y - r * 0.5); ctx.lineTo(x, y + r); ctx.closePath();
  } else {
    ctx.arc(x, y, r, 0, Math.PI * 2);
  }
  ctx.fillStyle = fill; ctx.fill();
  ctx.lineWidth = 1; ctx.strokeStyle = stroke; ctx.stroke();
}

const STYLE: any = {
  M: { pointStyle: 'rectRot', fill: '#ff0000', stroke: '#5a5a5a', radius: 9.5, rotation: 0, kind: 'diamond', lr: 9.5 },
  TC: { pointStyle: 'rectRot', fill: '#ff0000', stroke: '#5a5a5a', radius: 9.5, rotation: 0, kind: 'diamond', lr: 9.5 },
  NN: { pointStyle: 'triangle', fill: '#ffff00', stroke: '#8a8a00', radius: 8.5, rotation: 180, kind: 'tri', lr: 9 },
  FA: { pointStyle: 'circle', fill: '#0a0aff', stroke: '#1a1a80', radius: 8.5, rotation: 0, kind: 'circle', lr: 9 },
};

function markerImage(label: string): HTMLCanvasElement {
  const st = STYLE[label];
  const size = Math.ceil(st.lr * 2 + 4);
  const c = document.createElement('canvas');
  c.width = size; c.height = size;
  const ctx = c.getContext('2d') as CanvasRenderingContext2D;
  drawMarker(ctx, st.kind, size / 2, size / 2, st.lr, st.fill, st.stroke);
  return c;
}

function noLabelPad(ax: any) {
  ax.paddingTop = 0;
  ax.paddingBottom = 0;
}

function scatterConfig(p: any): any {
  const yAll = p.yMinor ? [...p.yTicks, ...p.yMinor].sort((a: number, b: number) => a - b) : p.yTicks;
  const ell = p.ell;
  const decor = {
    id: 'scoreDecor',
    beforeDatasetsDraw(chart: any) {
      const { ctx, chartArea: ca, scales } = chart;
      const x = scales.x, y = scales.y;
      const x0 = x.getPixelForValue(0), y0 = y.getPixelForValue(0);
      ctx.save();
      ctx.strokeStyle = '#222'; ctx.lineWidth = 1;
      ctx.beginPath();
      ctx.moveTo(x0, ca.top); ctx.lineTo(x0, ca.bottom);
      ctx.moveTo(ca.left, y0); ctx.lineTo(ca.right + 4, y0);
      ctx.stroke();
      const ecx = x.getPixelForValue(ell[2]), ecy = y.getPixelForValue(ell[3]);
      const rx = Math.abs(x.getPixelForValue(ell[2] + ell[0]) - ecx);
      const ry = Math.abs(y.getPixelForValue(ell[3] + ell[1]) - ecy);
      ctx.beginPath(); ctx.ellipse(ecx, ecy, rx, ry, 0, 0, Math.PI * 2); ctx.stroke();
      ctx.restore();
    },
    afterDraw(chart: any) {
      const { ctx, chartArea: ca } = chart;
      ctx.save();
      ctx.fillStyle = '#222'; ctx.strokeStyle = '#222'; ctx.lineWidth = 1;
      ctx.beginPath(); ctx.moveTo(ca.right, ca.bottom); ctx.lineTo(ca.right + 6, ca.bottom); ctx.stroke();
      ctx.beginPath(); ctx.moveTo(ca.right + 8, ca.bottom); ctx.lineTo(ca.right + 1, ca.bottom - 3); ctx.lineTo(ca.right + 1, ca.bottom + 3); ctx.closePath(); ctx.fill();
      ctx.beginPath(); ctx.moveTo(ca.left, ca.top - 3); ctx.lineTo(ca.left - 3, ca.top + 5); ctx.lineTo(ca.left + 3, ca.top + 5); ctx.closePath(); ctx.fill();
      ctx.restore();
    },
  };
  return {
    type: 'scatter',
    data: {
      datasets: p.series.map((s: any) => {
        const st = STYLE[s.label];
        return {
          label: s.label,
          data: s.t.map((v: number, i: number) => ({ x: v, y: s.to[i] })),
          pointStyle: st.pointStyle, pointRadius: st.radius, pointHoverRadius: st.radius, pointRotation: st.rotation,
          backgroundColor: st.fill, borderColor: st.stroke, borderWidth: 1, clip: false,
        };
      }),
    },
    options: {
      animation: false, responsive: false, events: [],
      layout: { padding: { left: 24, right: 16, top: 0, bottom: 0 } },
      plugins: {
        legend: {
          display: true, position: 'top',
          labels: {
            usePointStyle: true, boxWidth: 20, boxHeight: 13, padding: 10, font: LEGEND_FONT, color: '#111',
            generateLabels: (chart: any) => {
              const items = (Chart as any).defaults.plugins.legend.labels.generateLabels(chart);
              return items.map((it: any, i: number) => ({ ...it, pointStyle: markerImage(chart.data.datasets[i].label), rotation: 0 }));
            },
          },
        },
        tooltip: { enabled: false },
      },
      scales: {
        x: {
          type: 'linear', min: p.xMin, max: p.xMax, reverse: !!p.xReverse,
          afterBuildTicks: (ax: any) => { ax.ticks = p.xTicks.map((v: number) => ({ value: v })); },
          afterFit: (ax: any) => { ax.height = 62; },
          grid: { drawOnChartArea: false, tickLength: 4, color: '#222', tickColor: '#222' },
          border: { display: true, color: '#222', width: 1 },
          ticks: { font: TICK_FONT, color: '#333', padding: 3, autoSkip: false, maxRotation: 0, callback: (v: any) => fmtK(Number(v)) },
          title: { display: true, text: 't[1]', font: TITLE_FONT, color: '#111', padding: { top: 0, bottom: 9 } },
        },
        y: {
          type: 'linear', min: p.yMin, max: p.yMax,
          afterBuildTicks: (ax: any) => { ax.ticks = yAll.map((v: number) => ({ value: v })); },
          afterFit: (ax: any) => { ax.width = 91; noLabelPad(ax); },
          grid: {
            drawOnChartArea: false, tickLength: 4, color: '#222',
            tickColor: (c: any) => (c.tick && p.yTicks.includes(c.tick.value) ? '#222' : '#777'),
          },
          border: { display: true, color: '#222', width: 1 },
          ticks: { font: TICK_FONT, color: '#333', padding: 3, autoSkip: false, callback: (v: any) => (p.yTicks.includes(Number(v)) ? fmtK(Number(v)) : '') },
          title: { display: true, text: 'to[1]', font: TITLE_FONT, color: '#111', padding: { top: 0, bottom: 0 } },
        },
      },
    },
    plugins: [decor],
  };
}

function spectrumConfig(p: any): any {
  const corr = p.pts.map((q: number[]) => q[2]);
  const vals = p.pts.map((q: number[]) => q[1]);
  const segColor = (c: any) => {
    const i0 = c.p0DataIndex, i1 = c.p1DataIndex;
    const a0 = Math.abs(vals[i0]), a1 = Math.abs(vals[i1]);
    const big = Math.max(a0, a1) >= p.peakThr;
    return cmap(corr[big && a1 > a0 ? i1 : i0]);
  };
  const decor = {
    id: 'specDecor',
    afterDraw(chart: any) {
      const { ctx, chartArea: ca } = chart;
      ctx.save();
      ctx.fillStyle = '#222';
      ctx.beginPath(); ctx.moveTo(ca.left, ca.top - 4); ctx.lineTo(ca.left - 3, ca.top + 4); ctx.lineTo(ca.left + 3, ca.top + 4); ctx.closePath(); ctx.fill();
      if (p.q2y) {
        ctx.save();
        ctx.translate(ca.left + 20, ca.top + 49);
        ctx.scale(1.14, 1);
        ctx.fillStyle = '#000';
        ctx.textBaseline = 'alphabetic';
        ctx.font = 'italic bold 29px "Liberation Sans"';
        ctx.fillText('Q', 0, 0);
        let cx = ctx.measureText('Q').width + 1;
        ctx.font = 'bold 18px "Liberation Sans"';
        ctx.fillText('2', cx, -12);
        cx += ctx.measureText('2').width;
        ctx.font = 'italic bold 29px "Liberation Sans"';
        ctx.fillText('Y', cx, 0);
        cx += ctx.measureText('Y').width;
        ctx.font = 'bold 29px "Liberation Sans"';
        ctx.fillText(' = ' + p.q2y, cx, 0);
        ctx.restore();
      }
      if (p.marks) {
        const rows = [[p.marks[0], ca.top + 24], [p.marks[1], ca.bottom - 14]];
        rows.forEach(([lab, yy]: any) => {
          const st = STYLE[lab];
          drawMarker(ctx, st.kind, ca.left + 16, yy, st.kind === 'tri' ? 9 : 8.5, st.fill, st.stroke);
          ctx.fillStyle = '#111';
          ctx.font = '23px "Open Sans"';
          ctx.textBaseline = 'middle';
          ctx.fillText(lab, ca.left + 34, yy + 1);
        });
      }
      ctx.restore();
    },
  };
  return {
    type: 'line',
    data: {
      datasets: [{
        data: p.pts.map((q: number[]) => ({ x: q[0], y: q[1] })),
        borderWidth: p.lw, pointRadius: 0, tension: 0, fill: false,
        borderColor: cmap(0.1),
        segment: { borderColor: segColor },
      }],
    },
    options: {
      animation: false, responsive: false, events: [],
      layout: { padding: { left: 0, right: p.padRight, top: 5, bottom: 0 } },
      plugins: { legend: { display: false }, tooltip: { enabled: false } },
      scales: {
        x: {
          type: 'linear', min: p.xMin, max: p.xMax, reverse: true,
          afterBuildTicks: (ax: any) => { ax.ticks = p.xTicks.map((v: number) => ({ value: v })); },
          afterFit: (ax: any) => { ax.height = 62; },
          grid: { drawOnChartArea: false, tickLength: 3, color: '#222', tickColor: '#333' },
          border: { display: true, color: '#222', width: 1 },
          ticks: { font: TICK_FONT, color: '#333', padding: 3, autoSkip: false, maxRotation: 0, callback: (v: any) => Number(v).toFixed(2).replace('.', ',') },
          title: { display: true, text: 'chemical shift [ppm]', font: TITLE_FONT, color: '#111', padding: { top: 0, bottom: 6 } },
        },
        y: {
          type: 'linear', min: p.yMin, max: p.yMax, reverse: !!p.yReverse,
          afterBuildTicks: (ax: any) => { ax.ticks = p.yTicks.map((v: number) => ({ value: v })); },
          afterFit: (ax: any) => { ax.width = p.yWidth; noLabelPad(ax); },
          grid: {
            drawOnChartArea: true, tickLength: p.yTickLen, tickColor: '#333',
            color: (c: any) => (c.tick && c.tick.value === 0 ? '#3a3a3a' : 'rgba(0,0,0,0)'),
            lineWidth: (c: any) => (c.tick && c.tick.value === 0 ? 1.5 : 1),
          },
          border: { display: true, color: '#222', width: 1 },
          ticks: { font: TICK_FONT, color: '#333', padding: p.yPad, autoSkip: false, callback: (v: any) => (p.yLabels.includes(Number(v)) ? String(v) : '') },
          title: { display: !!p.yTitle, text: 'p(ctr)[1]', font: TITLE_FONT, color: '#111', padding: { top: 2, bottom: 0 } },
        },
      },
    },
    plugins: [decor],
  };
}

function colorbarConfig(): any {
  return {
    type: 'bar',
    data: {
      labels: [''],
      datasets: [{
        data: [[COLORBAR_RANGE[0], COLORBAR_RANGE[1]]],
        borderWidth: 0, barPercentage: 1, categoryPercentage: 1,
        backgroundColor: (c: any) => {
          const chart = c.chart;
          if (!chart.chartArea) return cmap(0.5);
          const ys = chart.scales.y;
          const g = chart.ctx.createLinearGradient(0, ys.getPixelForValue(0), 0, ys.getPixelForValue(1));
          CMAP_POS.forEach((pos, i) => g.addColorStop(pos, `rgb(${CMAP_RGB[i].join(',')})`));
          return g;
        },
      }],
    },
    options: {
      animation: false, responsive: false, events: [],
      layout: { padding: { left: 6, right: 0, top: 5, bottom: 26 } },
      plugins: { legend: { display: false }, tooltip: { enabled: false } },
      scales: {
        x: { display: false },
        y: {
          position: 'right', min: COLORBAR_RANGE[0], max: COLORBAR_RANGE[1],
          afterBuildTicks: (ax: any) => { ax.ticks = COLORBAR_TICKS.map((v) => ({ value: v })); },
          afterFit: (ax: any) => { ax.width = 51; noLabelPad(ax); },
          grid: { display: false, drawTicks: false },
          border: { display: false },
          ticks: { font: { family: 'Open Sans', size: 26 }, color: '#111', padding: 8, callback: (v: any) => (Number(v) === 0 ? '0' : Number(v).toFixed(1).replace('.', ',')) },
        },
      },
    },
  };
}

function ChartBox({ left, top, width, height, build }: any) {
  const ref = useRef<HTMLCanvasElement>(null);
  useEffect(() => {
    const chart = new Chart(ref.current as HTMLCanvasElement, build());
    return () => chart.destroy();
  }, []);
  return <canvas ref={ref} width={width} height={height} style={{ position: 'absolute', left, top, width, height }} />;
}

const PANEL_LETTERS = [['A', 21, 0], ['B', 22, 300], ['C', 22, 600]];

export default function App() {
  const scatterA = () => scatterConfig({
    series: [{ label: 'M', t: A_M_T, to: A_M_TO }, { label: 'NN', t: A_NN_T, to: A_NN_TO }],
    xMin: -30000, xMax: 29000, xTicks: A_X_TICKS, yMin: -25000, yMax: 24900, yTicks: A_Y_TICKS, ell: ELL_A,
  });
  const scatterB = () => scatterConfig({
    series: [{ label: 'FA', t: B_FA_T, to: B_FA_TO }, { label: 'NN', t: B_NN_T, to: B_NN_TO }],
    xMin: -20000, xMax: 19300, xTicks: B_X_TICKS, yMin: -30000, yMax: 40100, yTicks: B_Y_TICKS, yMinor: B_Y_MINOR, ell: ELL_B,
  });
  const scatterC = () => scatterConfig({
    series: [{ label: 'FA', t: C_FA_T, to: C_FA_TO }, { label: 'TC', t: C_TC_T, to: C_TC_TO }],
    xMin: -24000, xMax: 25000, xReverse: true, xTicks: C_X_TICKS, yMin: -25000, yMax: 24900, yTicks: C_Y_TICKS, ell: ELL_C,
  });
  const mid = (pts: number[][], rev: boolean, q: string) => () => spectrumConfig({
    pts, xMin: 6.578, xMax: 9.0, xTicks: MID_X_TICKS,
    yMin: rev ? -12 : -10, yMax: rev ? 10 : 12, yReverse: rev, yTicks: MID_Y_TICKS, yLabels: MID_Y_LABELS,
    yTitle: true, yWidth: 58, yTickLen: 4, yPad: 3, padRight: 21, q2y: q, lw: 1.4, peakThr: 1.5,
  });
  const right = (pts: number[][], rev: boolean, marks: string[]) => () => spectrumConfig({
    pts, xMin: 0.69, xMax: 4.5, xTicks: RIGHT_X_TICKS,
    yMin: rev ? -120 : -100, yMax: rev ? 100 : 120, yReverse: rev, yTicks: RIGHT_Y_TICKS, yLabels: RIGHT_Y_LABELS,
    yTitle: false, yWidth: 39, yTickLen: 3, yPad: 2, padRight: 7, marks, lw: 1.3, peakThr: 12,
  });

  return (
    <div style={{ position: 'absolute', left: 0, top: 0, width: 1238, height: 894, overflow: 'hidden', background: '#fff' }}>
      <ChartBox left={0} top={0} width={420} height={300} build={scatterA} />
      <ChartBox left={0} top={300} width={420} height={300} build={scatterB} />
      <ChartBox left={0} top={600} width={420} height={300} build={scatterC} />
      <ChartBox left={420} top={0} width={400} height={300} build={mid(MID_A, true, Q2Y[0])} />
      <ChartBox left={420} top={300} width={400} height={300} build={mid(MID_B, true, Q2Y[1])} />
      <ChartBox left={420} top={600} width={400} height={300} build={mid(MID_C, false, Q2Y[2])} />
      <ChartBox left={800} top={0} width={360} height={300} build={right(RIGHT_A, true, ['M', 'NN'])} />
      <ChartBox left={800} top={300} width={360} height={300} build={right(RIGHT_B, true, ['FA', 'NN'])} />
      <ChartBox left={800} top={600} width={360} height={300} build={right(RIGHT_C, false, ['M', 'FA'])} />
      <ChartBox left={1150} top={0} width={88} height={894} build={colorbarConfig} />
      {PANEL_LETTERS.map(([t, x, y]) => (
        <div key={t as string} style={{ position: 'absolute', left: x as number, top: (y as number) + 6, fontFamily: '"Liberation Sans", Arial, sans-serif', fontWeight: 'bold', fontSize: 52, lineHeight: '52px', color: '#000' }}>{t}</div>
      ))}
    </div>
  );
}
